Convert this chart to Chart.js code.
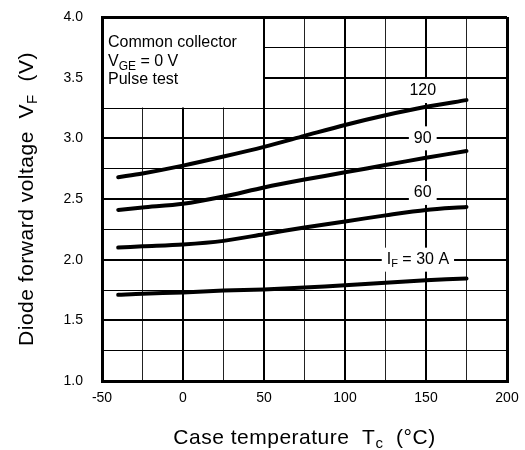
<!DOCTYPE html>
<html>
<head>
<meta charset="utf-8">
<script src="https://cdn.jsdelivr.net/npm/chart.js@4/dist/chart.umd.min.js"></script>
<style>
  body { margin: 0; background: #fff; }
  canvas { display: block; }
</style>
</head>
<body>
<canvas id="vfChart" width="525" height="450"></canvas>
<script>
const temps = [-40, -25, 0, 25, 50, 75, 100, 125, 150, 175];
const vf120 = [2.68, 2.71, 2.775, 2.85, 2.93, 3.02, 3.11, 3.19, 3.26, 3.315];
const vf90 = [2.41, 2.43, 2.46, 2.52, 2.595, 2.66, 2.72, 2.78, 2.84, 2.895];
const vf60 = [2.10, 2.11, 2.125, 2.155, 2.21, 2.265, 2.315, 2.365, 2.41, 2.435];
const vf30 = [1.71, 1.72, 1.73, 1.745, 1.755, 1.77, 1.79, 1.81, 1.83, 1.845];
const xTickLabels = [-50, 0, 50, 100, 150, 200];
const yTickLabels = ['1.0', '1.5', '2.0', '2.5', '3.0', '3.5', '4.0'];

const FONT = '"Liberation Sans", Arial, sans-serif';

function pts(ys) {
  return temps.map((t, i) => ({ x: t, y: ys[i] }));
}

function curve(ys) {
  return {
    data: pts(ys),
    showLine: true,
    borderColor: '#000',
    borderWidth: 4,
    borderCapStyle: 'round',
    pointRadius: 0,
    tension: 0.3
  };
}

// draws text made of [text, isSubscript] parts, centred on (x, y)
function drawParts(ctx, parts, x, y, size) {
  const subSize = Math.round(size * 0.7);
  let total = 0;
  const widths = parts.map(([t, sub]) => {
    ctx.font = (sub ? subSize : size) + 'px ' + FONT;
    const w = ctx.measureText(t).width;
    total += w;
    return w;
  });
  let cx = x - total / 2;
  ctx.textAlign = 'left';
  ctx.textBaseline = 'middle';
  ctx.fillStyle = '#000';
  parts.forEach(([t, sub], i) => {
    ctx.font = (sub ? subSize : size) + 'px ' + FONT;
    ctx.fillText(t, cx, sub ? y + size * 0.3 : y);
    cx += widths[i];
  });
  return total;
}

function labelBox(ctx, parts, x, y, size) {
  ctx.save();
  ctx.globalAlpha = 0;
  const w = drawParts(ctx, parts, x, y, size);
  ctx.restore();
  ctx.fillStyle = '#fff';
  ctx.fillRect(x - w / 2 - 5, y - 12, w + 10, 24);
  drawParts(ctx, parts, x, y, size);
}

const overlay = {
  id: 'overlay',
  beforeDatasetsDraw(chart) {
    const ctx = chart.ctx;
    const xs = chart.scales.x, ys = chart.scales.y;
    const a = chart.chartArea;
    ctx.save();
    // condition box in the top-left corner
    const bx = xs.getPixelForValue(50), by = ys.getPixelForValue(3.25);
    ctx.fillStyle = '#fff';
    ctx.fillRect(a.left + 2, a.top + 2, bx - a.left - 3, by - a.top - 2.5);
    ctx.textAlign = 'left';
    ctx.textBaseline = 'middle';
    ctx.fillStyle = '#000';
    ctx.font = '16px ' + FONT;
    ctx.fillText('Common collector', a.left + 6, a.top + 26);
    ctx.fillText('V', a.left + 6, a.top + 45);
    const vw = ctx.measureText('V').width;
    ctx.font = '12px ' + FONT;
    ctx.fillText('GE', a.left + 6 + vw, a.top + 50);
    const gw = ctx.measureText('GE').width;
    ctx.font = '16px ' + FONT;
    ctx.fillText(' = 0 V', a.left + 6 + vw + gw, a.top + 45);
    ctx.fillText('Pulse test', a.left + 6, a.top + 63);

    // curve labels
    const px = v => xs.getPixelForValue(v), py = v => ys.getPixelForValue(v);
    labelBox(ctx, [['120', false]], px(148), py(3.39), 16);
    labelBox(ctx, [['90', false]], px(148), py(3.0), 16);
    labelBox(ctx, [['60', false]], px(148), py(2.55), 16);
    labelBox(ctx, [['I', false], ['F', true], [' = 30 A', false]], px(145), py(2.0), 16);
    ctx.restore();
  },
  afterDraw(chart) {
    const ctx = chart.ctx;
    const a = chart.chartArea;
    ctx.save();
    ctx.letterSpacing = '0.5px';
    drawParts(ctx, [['Case temperature  T', false], ['c', true], ['  (°C)', false]],
      (a.left + a.right) / 2, 438, 21);
    ctx.translate(27, (a.top + a.bottom) / 2);
    ctx.rotate(-Math.PI / 2);
    drawParts(ctx, [['Diode forward voltage  V', false], ['F', true], ['  (V)', false]], 0, 0, 21);
    ctx.restore();
  }
};

function gridWidth(edgeMin, edgeMax, major) {
  return c => {
    const v = c.tick.value;
    if (Math.abs(v - edgeMin) < 1e-6 || Math.abs(v - edgeMax) < 1e-6) return 3;
    return Math.abs(v / major - Math.round(v / major)) < 1e-6 ? 2 : 1;
  };
}

new Chart(document.getElementById('vfChart'), {
  type: 'scatter',
  data: {
    datasets: [curve(vf120), curve(vf90), curve(vf60), curve(vf30)]
  },
  options: {
    responsive: false,
    animation: false,
    layout: { padding: { top: 17, right: 18, left: 0, bottom: 0 } },
    plugins: { legend: { display: false }, tooltip: { enabled: false } },
    scales: {
      x: {
        type: 'linear',
        min: -50,
        max: 200,
        afterFit: s => { s.height = 69; s.paddingLeft = 0; s.paddingRight = 0; },
        ticks: {
          stepSize: 25,
          autoSkip: false,
          maxRotation: 0,
          padding: 9,
          color: '#000',
          font: { size: 14, family: FONT },
          callback: v => xTickLabels.includes(v) ? String(v) : ''
        },
        grid: {
          drawTicks: false,
          color: c => Math.abs(c.tick.value % 50) < 1e-6 ? '#000' : '#222',
          lineWidth: gridWidth(-50, 200, 50)
        },
        border: { display: true, color: '#000', width: 3 }
      },
      y: {
        min: 1,
        max: 4,
        afterFit: s => { s.width = 102; s.paddingTop = 0; s.paddingBottom = 0; },
        ticks: {
          stepSize: 0.25,
          autoSkip: false,
          padding: 19,
          color: '#000',
          font: { size: 14, family: FONT },
          callback: v => yTickLabels.includes(v.toFixed(1)) && Math.abs(v * 2 - Math.round(v * 2)) < 1e-6 ? v.toFixed(1) : ''
        },
        grid: {
          drawTicks: false,
          color: c => '#000',
          lineWidth: gridWidth(1, 4, 0.5)
        },
        border: { display: true, color: '#000', width: 3 }
      }
    }
  },
  plugins: [overlay]
});
</script>
</body>
</html>
